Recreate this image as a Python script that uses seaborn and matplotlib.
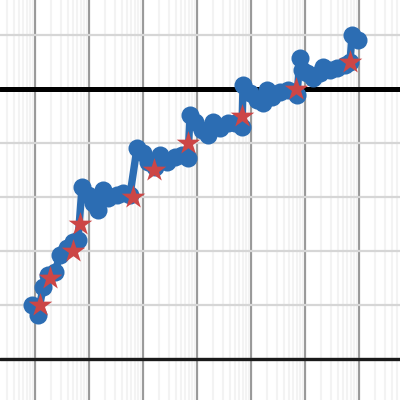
import numpy as np
import pandas as pd
import matplotlib
matplotlib.use("Agg")
import matplotlib.pyplot as plt
import matplotlib.ticker as mticker
import seaborn as sns

# Blue series (x on log scale)
line_x = [0.88, 1.14, 1.41, 1.74, 2.35, 2.90, 3.91, 5.05, 6.26,
          7.42, 9.58, 11.9, 14.7, 18.2, 22.5, 33.0, 42.6, 57.4,
          77.4, 100, 124, 167, 206, 278, 391, 527, 681,
          742, 918, 1238, 1600, 1979, 2667, 3750, 5055, 6813,
          7110, 9580, 12900, 16700, 19800, 24500, 34400, 48400, 71100,
          80800, 88000, 109000, 141000, 190000, 215000, 290000, 392000, 550000, 681000,
          742000, 958000]
line_y = [1.00, 0.815, 1.333, 1.556, 1.611, 1.926, 2.056, 2.167, 2.204,
          3.185, 3.037, 2.889, 2.759, 3.130, 2.981, 3.037, 3.074, 3.037,
          3.907, 3.815, 3.648, 3.556, 3.778, 3.648, 3.741, 3.778, 3.722,
          4.519, 4.389, 4.241, 4.148, 4.389, 4.278, 4.370, 4.370, 4.296,
          5.074, 4.926, 4.796, 4.741, 4.981, 4.852, 4.944, 4.981, 4.889,
          5.574, 5.352, 5.296, 5.204, 5.296, 5.407, 5.352, 5.389, 5.444, 5.50,
          6.00, 5.907]

# Red stars
star_x = [1.24, 1.90, 5.05, 6.81, 65.3, 160, 681, 6813, 68100, 681000]
star_y = [1.0, 1.5, 2.0, 2.5, 3.0, 3.5, 4.0, 4.5, 5.0, 5.5]

# Reference lines
hlines_y = [5.0, 0.0]

line_df = pd.DataFrame({"x": line_x, "y": line_y})
star_df = pd.DataFrame({"x": star_x, "y": star_y})

sns.set_style("white")
fig = plt.figure(figsize=(4, 4), dpi=100)
ax = fig.add_axes([0, 0, 1, 1])
ax.set_xscale("log")
ax.set_xlim(10 ** (-35 / 54), 10 ** (365 / 54))
ax.set_ylim(-41 / 54, 359 / 54)

ax.xaxis.set_major_locator(mticker.LogLocator(base=10, numticks=20))
ax.xaxis.set_minor_locator(mticker.LogLocator(base=10, subs=np.arange(2, 10), numticks=100))
ax.yaxis.set_major_locator(mticker.MultipleLocator(1))
ax.grid(which="minor", axis="x", color="#f3f3f3", linewidth=1.5, zorder=0)
ax.grid(which="major", axis="x", color="#999999", linewidth=1.6, zorder=0)
ax.grid(which="major", axis="y", color="#d6d6d6", linewidth=1.6, zorder=0)
ax.set_axisbelow(True)

ax.axhline(hlines_y[0], color="black", linewidth=3.6, zorder=1)
ax.axhline(hlines_y[1], color="#1a1a1a", linewidth=2.4, zorder=1)

sns.lineplot(data=line_df, x="x", y="y", ax=ax, sort=False, color="#2c6db3",
             linewidth=5.3, marker="o", markersize=13, markeredgewidth=0, zorder=2)
sns.scatterplot(data=star_df, x="x", y="y", ax=ax, marker="*", s=320,
                color="#cc4646", linewidth=0, zorder=3)

ax.tick_params(which="both", length=0, labelbottom=False, labelleft=False)
ax.set_xlabel("")
ax.set_ylabel("")
for s in ax.spines.values():
    s.set_visible(False)

fig.savefig("out.png", dpi=100)
